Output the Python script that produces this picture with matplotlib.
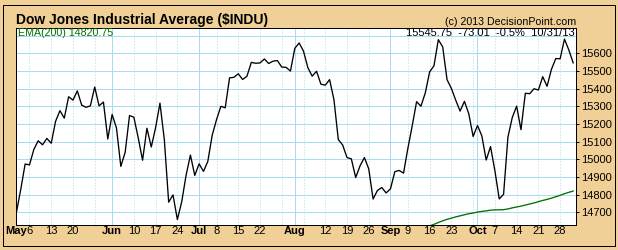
import pandas as pd
import matplotlib
matplotlib.use('Agg')
import matplotlib.pyplot as plt
from matplotlib.patches import Rectangle

plt.rcParams['font.family'] = ['Liberation Sans', 'DejaVu Sans']

# trading days May 1 - Oct 31 2013 (market holidays removed)
holidays = ['2013-05-27', '2013-07-04', '2013-09-02']
dates = pd.bdate_range('2013-05-01', '2013-10-31')
dates = dates[~dates.isin(pd.to_datetime(holidays))]

closes = [
    14700.80, 14831.58, 14973.96, 14968.89, 15056.20, 15105.12, 15082.62, 15118.49,
    15091.68, 15215.25, 15275.69, 15233.22, 15354.40, 15335.28, 15387.58, 15307.17,
    15294.50, 15303.10, 15409.39, 15302.80, 15324.53, 15115.57,
    15254.03, 15177.54, 14960.59, 15040.62, 15248.12, 15238.59, 15122.02, 14995.23,
    15176.08, 15070.18, 15179.85, 15318.23, 15112.19, 14758.32, 14799.40, 14659.56,
    14760.31, 14910.14, 15024.49, 14909.60,
    14974.96, 14932.41, 14988.55, 15135.84, 15224.69, 15300.34, 15291.66, 15460.92,
    15464.30, 15484.26, 15451.85, 15470.52, 15548.54, 15543.74, 15545.55, 15567.74,
    15542.24, 15555.61, 15558.83, 15521.97, 15520.59, 15499.54,
    15628.02, 15658.36, 15612.13, 15518.74, 15470.67, 15498.32, 15425.51, 15419.68,
    15451.01, 15337.66, 15112.19, 15081.47, 15010.74, 15002.99, 14897.55, 14963.74,
    15010.51, 14946.46, 14776.13, 14824.51, 14840.95, 14810.31,
    14833.96, 14930.87, 14937.48, 14922.50, 15063.12, 15191.06, 15326.60, 15300.64,
    15376.06, 15494.78, 15529.73, 15676.94, 15636.55, 15451.09, 15401.38, 15334.59,
    15273.26, 15328.30, 15258.24, 15129.67,
    15191.70, 15133.14, 14996.48, 15072.58, 14936.24, 14776.53, 14802.98, 15126.07,
    15237.11, 15301.26, 15168.01, 15373.83, 15371.65, 15399.65, 15392.20, 15467.66,
    15413.33, 15509.21, 15570.28, 15568.93, 15680.35, 15618.76, 15545.75,
]

# EMA(200), only the part near the visible range (from Sep 13 on)
ema_start = '2013-09-13'
ema = [
    14615, 14624, 14633, 14643, 14653, 14661, 14668, 14675, 14681, 14687,
    14693, 14697, 14702, 14706, 14709, 14713, 14715, 14715, 14716, 14720,
    14726, 14731, 14736, 14742, 14748, 14754, 14761, 14768, 14774, 14781,
    14789, 14797, 14806, 14814, 14821,
]

y_ticks = [14700, 14800, 14900, 15000, 15100, 15200, 15300, 15400, 15500, 15600]
month_names = ['May', 'Jun', 'Jul', 'Aug', 'Sep', 'Oct']
week_labels = ['2013-05-06', '2013-05-13', '2013-05-20', '2013-06-10', '2013-06-17',
               '2013-06-24', '2013-07-08', '2013-07-15', '2013-07-22', '2013-08-12',
               '2013-08-19', '2013-08-26', '2013-09-09', '2013-09-16', '2013-09-23',
               '2013-10-07', '2013-10-14', '2013-10-21', '2013-10-28']

beige = '#f0d096'
grid_c = '#a8dcf0'
green = '#007000'
px = 0.72  # one pixel in points

fig = plt.figure(figsize=(6.18, 2.5), dpi=100, facecolor=beige)
fig.patches.append(Rectangle((2.5 / 618, 4.5 / 250), 612 / 618, 241 / 250,
                             transform=fig.transFigure, fill=False,
                             edgecolor='black', lw=px))

ax = fig.add_axes([16 / 618, 25.5 / 250, 560 / 618, 196.5 / 250])
ax.set_facecolor('white')

pos = list(range(len(dates)))
s = pd.Series(pos, index=dates)

# month starts and week starts
month_first = s.groupby([dates.month]).first()
week_first = s.groupby([dates.isocalendar().week.values]).first()

for y in y_ticks + [15700]:
    ax.axhline(y, color=grid_c, lw=px, zorder=0)
for p in week_first.values:
    if p not in month_first.values:
        ax.axvline(p, color=grid_c, lw=px, ls=(0, (1, 2)), zorder=0)
for p in month_first.values:
    ax.axvline(p, color=grid_c, lw=px, zorder=0)

ax.plot(pos, closes, color='black', lw=0.95, zorder=3)
ema_pos = s[ema_start:].values
ax.plot(ema_pos, ema, color=green, lw=0.95, zorder=2)

ax.set_xlim(-0.1, 128.65)
ax.set_ylim(14632, 15743)

# x labels: bold month names + week days
ax.set_xticks([])
lab_y = -(234 - 224.5) / 196.5
xt = ax.get_xaxis_transform()
for p, name in zip(month_first.values, month_names):
    ax.text(p, lab_y, name, fontsize=8, fontweight='bold', ha='center',
            va='baseline', transform=xt)
for d in week_labels:
    ax.text(s[d], lab_y, str(pd.Timestamp(d).day), fontsize=8, ha='center',
            va='baseline', transform=xt)

ax.yaxis.tick_right()
ax.set_yticks(y_ticks)
ax.set_yticklabels([str(v) for v in y_ticks], fontsize=8)
ax.tick_params(axis='y', length=2.5, width=px, pad=1.5)

for sp in ax.spines.values():
    sp.set_linewidth(px)
    sp.set_color('black')

fig.text(16 / 618, 1 - 24 / 250, 'Dow Jones Industrial Average ($INDU)',
         fontsize=10, fontweight='bold', va='baseline', ha='left')
fig.text(576 / 618, 1 - 25 / 250, '(c) 2013 DecisionPoint.com',
         fontsize=7.7, va='baseline', ha='right')
ax.text(1.5 / 560, (224.5 - 36) / 196.5, 'EMA(200) 14820.75', color=green,
        fontsize=7.7, va='baseline', ha='left', transform=ax.transAxes)
ax.text(559 / 560, (224.5 - 36) / 196.5, '15545.75  -73.01  -0.5%  10/31/13',
        fontsize=8, va='baseline', ha='right', transform=ax.transAxes)

fig.savefig('out.png', dpi=100, facecolor=beige)
